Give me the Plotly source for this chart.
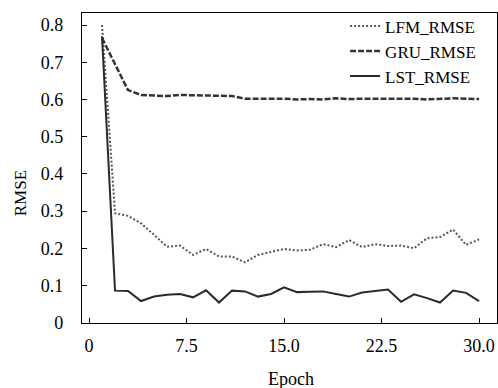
import plotly.graph_objects as go

epochs = list(range(1, 31))
lfm_rmse = [0.800, 0.294, 0.287, 0.267, 0.236, 0.204, 0.207, 0.182, 0.198, 0.178,
            0.178, 0.162, 0.182, 0.191, 0.198, 0.194, 0.196, 0.211, 0.203, 0.222,
            0.203, 0.211, 0.206, 0.207, 0.200, 0.227, 0.230, 0.250, 0.209, 0.224]
gru_rmse = [0.765, 0.695, 0.625, 0.612, 0.610, 0.609, 0.612, 0.611, 0.610, 0.610,
            0.609, 0.602, 0.601, 0.602, 0.602, 0.600, 0.601, 0.600, 0.603, 0.601,
            0.602, 0.602, 0.603, 0.601, 0.602, 0.600, 0.602, 0.603, 0.602, 0.601]
lst_rmse = [0.770, 0.086, 0.085, 0.058, 0.070, 0.075, 0.077, 0.068, 0.087, 0.054,
            0.086, 0.084, 0.070, 0.077, 0.095, 0.082, 0.083, 0.084, 0.077, 0.070,
            0.081, 0.085, 0.089, 0.056, 0.076, 0.066, 0.054, 0.086, 0.080, 0.058]

x_ticks = [0, 7.5, 15.0, 22.5, 30.0]
x_tick_labels = ["0", "7.5", "15.0", "22.5", "30.0"]
y_ticks = [0, 0.1, 0.2, 0.3, 0.4, 0.5, 0.6, 0.7, 0.8]
y_tick_labels = ["0", "0.1", "0.2", "0.3", "0.4", "0.5", "0.6", "0.7", "0.8"]

FONT = "Liberation Serif"

fig = go.Figure()
fig.add_trace(go.Scatter(x=epochs, y=lfm_rmse, mode="lines", name="LFM_RMSE",
                         line=dict(color="#555555", width=2, dash="2px,2px")))
fig.add_trace(go.Scatter(x=epochs, y=gru_rmse, mode="lines", name="GRU_RMSE",
                         line=dict(color="#333333", width=2.5, dash="6px,2px")))
fig.add_trace(go.Scatter(x=epochs, y=lst_rmse, mode="lines", name="LST_RMSE",
                         line=dict(color="#2a2a2a", width=2)))

fig.update_layout(
    width=498, height=388,
    margin=dict(l=82, r=1, t=13, b=65),
    paper_bgcolor="white", plot_bgcolor="white",
    font=dict(family=FONT, size=18, color="black"),
    showlegend=True,
    legend=dict(x=0.634, xanchor="left", y=1.015, yanchor="top",
                bgcolor="rgba(0,0,0,0)", borderwidth=0,
                font=dict(family=FONT, size=17, color="black"),
                tracegroupgap=0),
)
fig.update_xaxes(range=[-0.54, 31.38], tickvals=x_ticks, ticktext=x_tick_labels,
                 ticks="inside", ticklen=5, tickwidth=1, tickcolor="black",
                 showline=True, linecolor="black", linewidth=1.2, mirror=True,
                 showgrid=False, zeroline=False, ticklabelstandoff=6)
fig.update_yaxes(range=[-0.001, 0.8323], tickvals=y_ticks, ticktext=y_tick_labels,
                 ticks="inside", ticklen=5, tickwidth=1, tickcolor="black",
                 showline=True, linecolor="black", linewidth=1.2, mirror=True,
                 showgrid=False, zeroline=False, ticklabelstandoff=14)

fig.add_annotation(text="RMSE", xref="paper", yref="paper", x=-0.149, y=0.419,
                   textangle=-90, showarrow=False, xanchor="center", yanchor="middle",
                   font=dict(family=FONT, size=17, color="black"))
fig.add_annotation(text="Epoch", xref="paper", yref="paper", x=0.504, y=-0.181,
                   showarrow=False, xanchor="center", yanchor="middle",
                   font=dict(family=FONT, size=18, color="black"))

fig.write_html("out.html", config={"displayModeBar": False},
               post_script="document.body.style.margin='0';document.body.style.padding='0';")
